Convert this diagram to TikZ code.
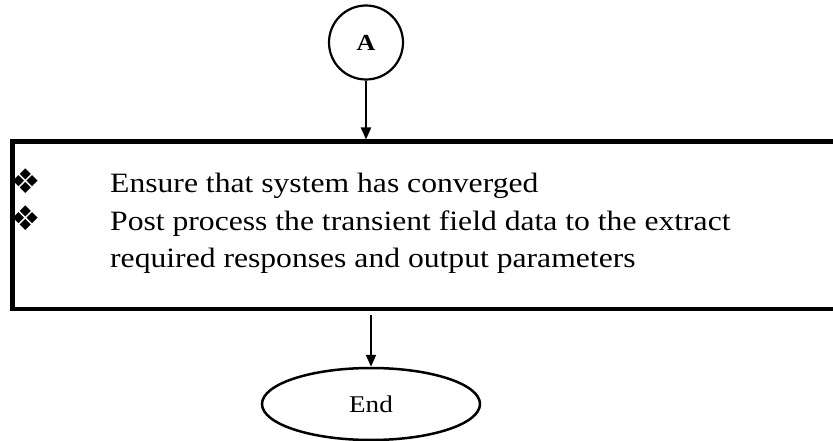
\documentclass[tikz,border=0pt]{standalone}
\usepackage{fontspec}
\setmainfont{Liberation Serif}
\newfontfamily\symfont{DejaVu Sans}
\usetikzlibrary{arrows.meta,shapes.geometric}
\newcommand\widetxt[1]{\scalebox{1.13}[1]{#1}}
\tikzset{
  conn/.style={line width=2pt,-{Triangle[length=12pt,width=10pt]}},
  txt/.style={anchor=base west,inner sep=0pt,font=\fontsize{28}{34}\selectfont},
  bul/.style={inner sep=0pt,font=\symfont\fontsize{34}{40}\selectfont},
}
\begin{document}
\begin{tikzpicture}[x=1pt,y=-1pt]
\clip (0,0) rectangle (833,441);
\fill[white] (0,0) rectangle (833,441);
% connector A
\node[circle,draw,line width=2.2pt,minimum size=74pt,inner sep=0pt,
      font=\bfseries\fontsize{23}{26}\selectfont] (a) at (366,42.5) {\widetxt{A}};
% box (right side outside picture)
\node[draw,line width=4.5pt,minimum width=860pt,minimum height=167pt,
      inner sep=0pt,anchor=north west] (box) at (10,139.5) {};
% bullets
\node[bul] (b1) at (26,181.5) {❖};
\node[bul] (b2) at (26,218.5) {❖};
% text lines
\node[txt] (t1) at (110,193) {\widetxt{Ensure that system has converged}};
\node[txt] (t2) at (110,230) {\widetxt{Post process the transient field data to the extract}};
\node[txt] (t3) at (110,267) {\widetxt{required responses and output parameters}};
% end
\node[ellipse,draw,line width=2.5pt,minimum width=218pt,minimum height=72pt,
      inner sep=0pt,font=\fontsize{24}{28}\selectfont] (e) at (371,404) {\widetxt{End}};
% connectors
\draw[conn] (a.south) -- (a.south |- box.north);
\coordinate (s2) at ([yshift=-4pt]box.south -| e.north);
\draw[conn] (s2) -- (e.north);
\end{tikzpicture}
\end{document}
